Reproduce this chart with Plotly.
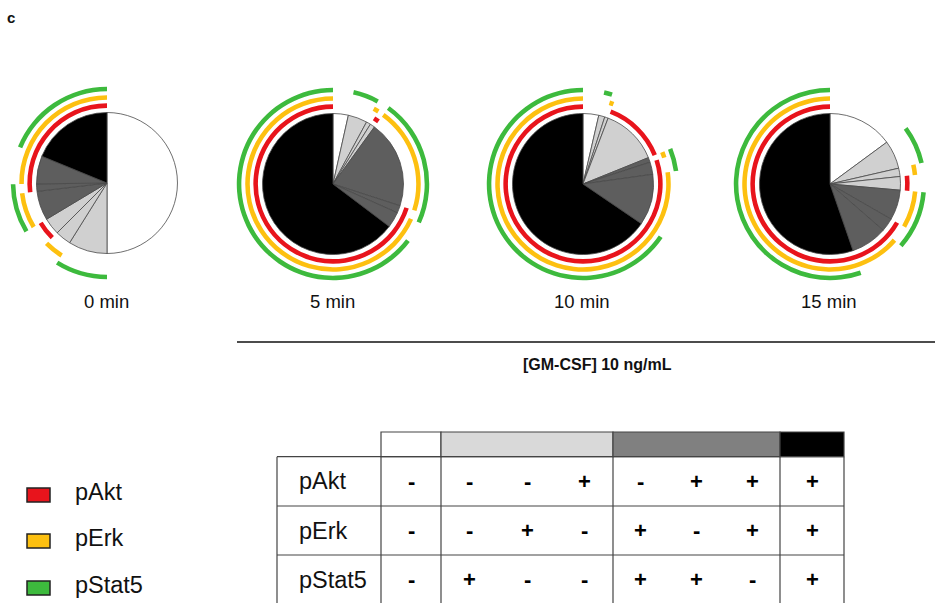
import numpy as np
import plotly.graph_objects as go

# ---------------- data ----------------
categories = ["---", "--+", "-+-", "+--", "-++", "+-+", "++-", "+++"]
markers = ["pAkt", "pErk", "pStat5"]
pAkt = [0, 0, 0, 1, 0, 1, 1, 1]
pErk = [0, 0, 1, 0, 1, 0, 1, 1]
pStat5 = [0, 1, 0, 0, 1, 1, 0, 1]
time_labels = ["0 min", "5 min", "10 min", "15 min"]
t0 = [50.0, 8.9, 3.6, 3.9, 6.7, 1.7, 6.4, 18.8]
t5 = [3.5, 4.4, 1.0, 1.1, 20.0, 1.7, 3.6, 64.7]
t10 = [3.6, 1.4, 0.8, 13.1, 1.1, 2.8, 11.7, 65.5]
t15 = [14.9, 6.5, 1.9, 3.1, 6.9, 3.1, 8.3, 55.3]
dose_label = "[GM-CSF] 10 ng/mL"
panel_label = "c"

# ---------------- styles ----------------
W, H = 935, 603
FONT = "Liberation Sans, Arial, sans-serif"
WHITE, LIGHT, DARK, BLACK = "#ffffff", "#d0d0d0", "#5e5e5e", "#000000"
slice_colors = [WHITE, LIGHT, LIGHT, LIGHT, DARK, DARK, DARK, BLACK]
header_colors = ["#ffffff", "#d9d9d9", "#808080", "#000000"]
marker_colors = {"pAkt": "#e8141c", "pErk": "#fdc010", "pStat5": "#3dba3d"}
arc_base = {"pAkt": 1.065, "pErk": 1.18, "pStat5": 1.30}
arc_thick = 0.065
R_PIX = 70.5
RMAX = 1.4
pie_centers = [(107, 183), (333, 184), (583, 184), (830, 184)]

fig = go.Figure()
series = [t0, t5, t10, t15]
flags = {"pAkt": pAkt, "pErk": pErk, "pStat5": pStat5}


def runs(flag, starts, ends):
    out = []
    cur = None
    for f, s, e in zip(flag, starts, ends):
        if f:
            if cur is None:
                cur = [s, e]
            else:
                cur[1] = e
        else:
            if cur is not None:
                out.append(cur)
                cur = None
    if cur is not None:
        out.append(cur)
    return out


for i, (vals, (cx, cy)) in enumerate(zip(series, pie_centers)):
    pid = "polar" if i == 0 else f"polar{i+1}"
    sub = "polar" if i == 0 else f"polar{i+1}"
    v = np.array(vals, dtype=float)
    ang = v / v.sum() * 360.0
    ends = np.cumsum(ang)
    starts = ends - ang
    fig.add_trace(go.Barpolar(
        r=[1.0] * len(v), theta=(starts + ends) / 2, width=ang,
        marker=dict(color=slice_colors, line=dict(color="#4a4a4a", width=0.8)),
        subplot=sub, showlegend=False, hoverinfo="skip"))
    for m in markers:
        rr = runs(flags[m], starts, ends)
        if not rr:
            continue
        th = [(a + b) / 2 for a, b in rr]
        wd = [b - a for a, b in rr]
        fig.add_trace(go.Barpolar(
            r=[arc_thick] * len(rr), base=[arc_base[m]] * len(rr),
            theta=th, width=wd,
            marker=dict(color=marker_colors[m], line=dict(width=0)),
            subplot=sub, showlegend=False, hoverinfo="skip"))
    S = RMAX * R_PIX
    fig.update_layout(**{pid: dict(
        domain=dict(x=[(cx - S) / W, (cx + S) / W],
                    y=[1 - (cy + S) / H, 1 - (cy - S) / H]),
        bgcolor="rgba(0,0,0,0)", bargap=0,
        radialaxis=dict(visible=False, range=[0, RMAX]),
        angularaxis=dict(visible=False, rotation=90, direction="clockwise",
                         thetaunit="degrees"),
    )})

annotations = []
shapes = []


def txt(x, y, s, size, bold=False, xanchor="center", color="#111111"):
    annotations.append(dict(x=x, y=y, xref="x", yref="y", text=(f"<b>{s}</b>" if bold else s),
                            showarrow=False, xanchor=xanchor, yanchor="middle",
                            font=dict(family=FONT, size=size, color=color)))


# panel label
txt(11, 17, panel_label, 15, bold=True)
# time labels
for lab, (cx, cy) in zip(time_labels, pie_centers):
    txt(cx - 1, 301, lab, 18.5)
# dose line
shapes.append(dict(type="line", xref="x", yref="y", x0=237, x1=935, y0=342, y1=342,
                   line=dict(color="#111111", width=1.6)))
txt(597, 364, dose_label, 16, bold=True)

# legend
leg_y = [495, 541, 588]
for m, y in zip(markers, leg_y):
    shapes.append(dict(type="rect", xref="x", yref="y", x0=27, x1=50, y0=y - 7, y1=y + 7,
                       fillcolor=marker_colors[m], line=dict(color="#222222", width=1.5)))
    txt(73, y - 3, m, 23.5, xanchor="left")

# table
col_edges = [381, 441, 613, 780, 844]
group_sizes = [1, 3, 3, 1]
lab_x0 = 277
hdr_top, hdr_bot = 432, 456.7
row_edges = [456.7, 506, 555, 604]
line_col = "#444444"
for g, (x0, x1) in enumerate(zip(col_edges[:-1], col_edges[1:])):
    shapes.append(dict(type="rect", xref="x", yref="y", x0=x0, x1=x1, y0=hdr_top, y1=hdr_bot,
                       fillcolor=header_colors[g], line=dict(color=line_col, width=1.2)))
for y in row_edges[:-1]:
    shapes.append(dict(type="line", xref="x", yref="y", x0=lab_x0, x1=col_edges[-1], y0=y, y1=y,
                       line=dict(color=line_col, width=1.2)))
for x in [lab_x0] + col_edges:
    shapes.append(dict(type="line", xref="x", yref="y", x0=x, x1=x, y0=row_edges[0], y1=612,
                       line=dict(color=line_col, width=1.2)))
# cell centres per category
col_centers = []
for g, n in enumerate(group_sizes):
    x0, x1 = col_edges[g], col_edges[g + 1]
    step = (x1 - x0) / n
    col_centers += [x0 + step * (k + 0.5) for k in range(n)]
for r, m in enumerate(markers):
    yc = (row_edges[r] + row_edges[r + 1]) / 2
    txt(297, yc, m, 23.5, xanchor="left")
    for c, f in enumerate(flags[m]):
        txt(col_centers[c], yc, "<b>+</b>" if f else "<b>-</b>", 22, color="#000000")

fig.update_layout(
    width=W, height=H, margin=dict(l=0, r=0, t=0, b=0),
    paper_bgcolor="white", plot_bgcolor="rgba(0,0,0,0)",
    xaxis=dict(range=[0, W], visible=False, fixedrange=True, domain=[0, 1]),
    yaxis=dict(range=[H, 0], visible=False, fixedrange=True, domain=[0, 1]),
    shapes=shapes, annotations=annotations, showlegend=False,
)
fig.write_html(
    "out.html",
    config={"displayModeBar": False, "staticPlot": True},
    post_script="document.body.style.margin='0';document.body.style.padding='0';document.body.style.overflow='hidden';",
)
